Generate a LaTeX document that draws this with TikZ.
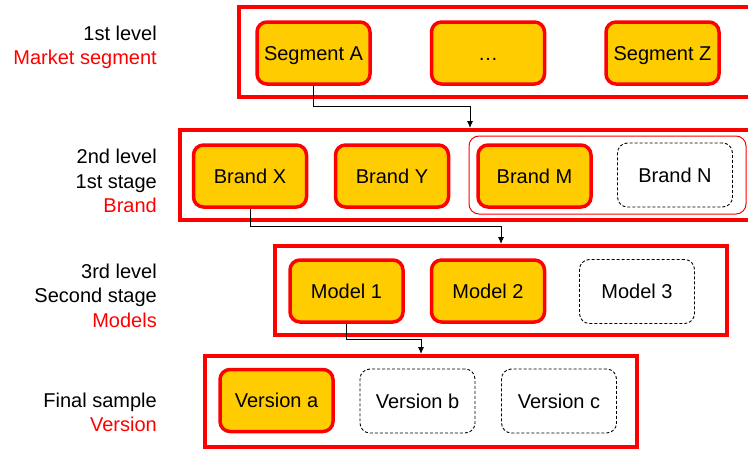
\documentclass[tikz,border=0pt]{standalone}
\usepackage{fontspec}
\setmainfont{Liberation Sans}
\usepackage{tikz}
\usetikzlibrary{arrows.meta}
\definecolor{selred}{RGB}{255,0,0}
\definecolor{selfill}{RGB}{255,204,0}
\tikzset{
    chosen/.style={shape=rectangle, rounded corners=10pt, draw=selred, fill=selfill, line width=3.5pt, minimum width=113pt, minimum height=62pt, inner sep=0pt, text height=14pt, text depth=0pt},
    notchosen/.style={shape=rectangle, rounded corners=10pt, draw=black, dash pattern=on 3pt off 2pt, line width=0.9pt, minimum width=115pt, minimum height=64pt, inner sep=0pt, text height=14pt, text depth=0pt},
    levelbox/.style={shape=rectangle, draw=selred, line width=4pt, inner sep=0pt},
    lbl/.style={anchor=base east, inner sep=0pt},
    flow/.style={-{Latex[length=7pt,width=6pt]}, line width=0.9pt}
}

\begin{document}
\begin{tikzpicture}[x=1pt, y=-1pt, font=\fontsize{20}{24}\selectfont]
    \useasboundingbox (0,0) rectangle (748,450);

    % level frames
    \node[levelbox, minimum width=521pt, minimum height=90pt] (L1) at (499.5,52) {};
    \node[levelbox, minimum width=580pt, minimum height=90pt] (L2) at (470,175) {};
    \node[shape=rectangle, draw=selred, rounded corners=10pt, line width=1pt, minimum width=277pt, minimum height=78pt] (MN) at (607.5,175) {};
    \node[levelbox, minimum width=452pt, minimum height=89pt] (L3) at (501,290.5) {};
    \node[levelbox, minimum width=432pt, minimum height=91pt] (L4) at (421,401.5) {};

    % labels on the left
    \node[lbl] (t1a) at (157,40) {1st level};
    \node[lbl, text=selred] (t1b) at (157,64) {Market segment};
    \node[lbl] (t2a) at (157,163) {2nd level};
    \node[lbl] (t2b) at (157,188) {1st stage};
    \node[lbl, text=selred] (t2c) at (157,212) {Brand};
    \node[lbl] (t3a) at (157,278) {3rd level};
    \node[lbl] (t3b) at (157,302) {Second stage};
    \node[lbl, text=selred] (t3c) at (157,327) {Models};
    \node[lbl] (t4a) at (157,407) {Final sample};
    \node[lbl, text=selred] (t4b) at (157,431) {Version};

    % segments
    \node[chosen] (sA) at (313.5,53) {Segment A};
    \node[chosen] (sDots) at (488,53) {…};
    \node[chosen] (sZ) at (662.5,53) {Segment Z};

    % brands
    \node[chosen] (bX) at (250,176) {Brand X};
    \node[chosen] (bY) at (392,176) {Brand Y};
    \node[chosen] (bM) at (534.5,176) {Brand M};
    \node[notchosen] (bN) at (675,175) {Brand N};

    % models
    \node[chosen] (m1) at (346.5,291) {Model 1};
    \node[chosen] (m2) at (488,291) {Model 2};
    \node[notchosen] (m3) at (637,291.5) {Model 3};

    % versions
    \node[chosen] (vA) at (276.5,400.5) {Version a};
    \node[notchosen] (vB) at (417.5,401) {Version b};
    \node[notchosen] (vC) at (559,401) {Version c};

    \draw[flow] (sA.south) -- ++(0,21) -| (L2.north);
    \draw[flow] (bX.south) -- ++(0,18) -| (L3.north);
    \draw[flow] (m1.south) -- ++(0,16) -| (L4.north);

\end{tikzpicture}
\end{document}
